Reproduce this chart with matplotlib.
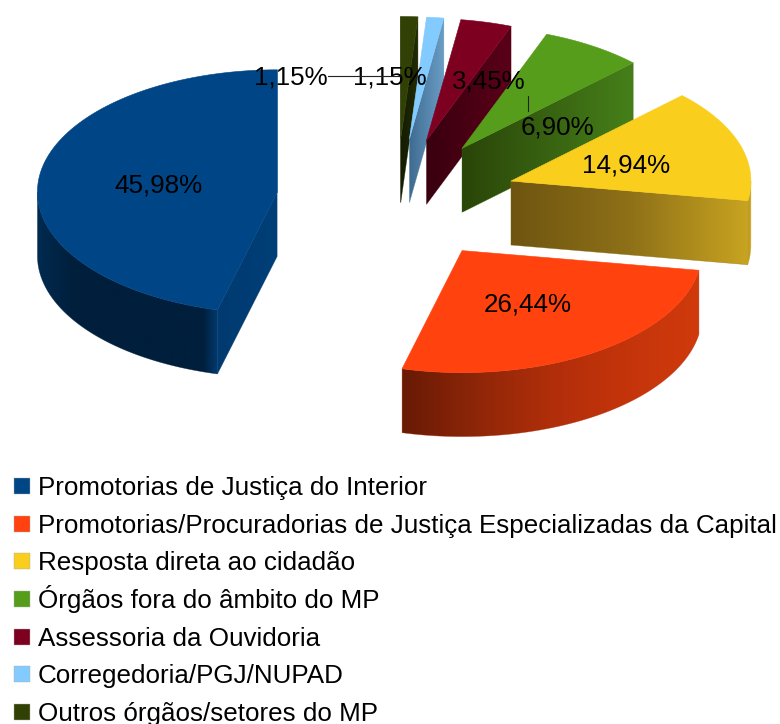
import numpy as np
import matplotlib
matplotlib.use('Agg')
import matplotlib.pyplot as plt
from matplotlib.colors import LinearSegmentedColormap
from matplotlib.patches import Polygon, Rectangle

plt.rcParams['font.family'] = ['Liberation Sans', 'DejaVu Sans']

categories = ['Promotorias de Justiça do Interior',
              'Promotorias/Procuradorias de Justiça Especializadas da Capital',
              'Resposta direta ao cidadão',
              'Órgãos fora do âmbito do MP',
              'Assessoria da Ouvidoria',
              'Corregedoria/PGJ/NUPAD',
              'Outros órgãos/setores do MP']
values = [45.98, 26.44, 14.94, 6.90, 3.45, 1.15, 1.15]
labels = ['45,98%', '26,44%', '14,94%', '6,90%', '3,45%', '1,15%', '1,15%']
colors = ['#004586', '#ff420e', '#f9ce1d', '#579d1c', '#7e0021', '#83caff', '#314004']

# where the value labels sit, in pixels
label_xy = [(158, 185), (528, 304.5), (626, 165), (557, 127), (489, 82), (390, 78), (291, 78)]

# gradient stops for the sides: (rim, cut face), left to right
rim_shades = [[(0, '#002a50'), (0.2, '#001f3c'), (0.92, '#001f3c'), (1, '#003a70')],
              ['#681a05', '#8e2608', '#b02e0a', '#c4340b', '#d03a0c'],
              ['#c09a1c', '#d0a820'],
              None, None, None, None]
cut_shades = [['#003a70', '#003f78'],
              None,
              ['#6e5510', '#8e7018', '#c8a420'],
              ['#2a4508', '#46801a'],
              ['#38000f', '#5a0018'],
              ['#3f6a90', '#6a9ec5'],
              ['#141c02', '#222c03']]

cx, cy = 396.5, 199.5
rx, ry = 240, 122
depth = 64
explode = 0.5

fig = plt.figure(figsize=(7.8, 7.24), dpi=100)
ax = fig.add_axes([0, 0, 1, 1])
z = [1]  # painter's order, images would go under the patches otherwise


def next_z():
    z[0] += 1
    return z[0]


def rim_point(c, t):
    return c[0] - rx * np.sin(t), c[1] - ry * np.cos(t)


def shade(poly, stops):
    # gradient clipped to a polygon, a thin outline on top hides the clip seams
    poly = np.array(poly)
    x0, y0 = poly.min(axis=0)
    x1, y1 = poly.max(axis=0)
    cmap = LinearSegmentedColormap.from_list('s', stops)
    ramp = np.linspace(0, 1, 256)[None, :]
    im = ax.imshow(ramp, cmap=cmap, extent=(x0, x1, y1, y0), aspect='auto',
                   interpolation='bilinear', origin='upper', zorder=next_z())
    p = Polygon(poly, closed=True, fc='none', ec='none', transform=ax.transData)
    ax.add_patch(p)
    im.set_clip_path(p)
    ax.add_patch(Polygon(poly, closed=True, fc='none', ec=cmap(0.5), lw=0.4, alpha=0.6,
                         zorder=next_z()))


def cut_face(c, t, stops):
    e = rim_point(c, t)
    shade([c, e, (e[0], e[1] + depth), (c[0], c[1] + depth)], stops)


start = 0.0
order = []
for i, v in enumerate(values):
    sweep = v / 100 * 2 * np.pi
    order.append((i, start, start + sweep))
    start += sweep

# back slices first, the big blue one goes on last
for i, t0, t1 in order[::-1]:
    mid = (t0 + t1) / 2
    c = (cx - explode * rx * np.sin(mid), cy - explode * ry * np.cos(mid))
    if np.sin(t0) < -1e-6:
        cut_face(c, t0, cut_shades[i])
    if np.sin(t1) > 1e-6:
        cut_face(c, t1, cut_shades[i])
    a0, a1 = max(t0, np.pi / 2), min(t1, 3 * np.pi / 2)
    if a1 > a0:
        ts = np.linspace(a0, a1, 120)
        top = np.array([rim_point(c, t) for t in ts])
        bottom = top[::-1] + [0, depth]
        shade(np.vstack([top, bottom]), rim_shades[i])
    ts = np.linspace(t0, t1, 200)
    arc = [rim_point(c, t) for t in ts]
    ax.add_patch(Polygon([c] + arc, closed=True, fc=colors[i], ec=colors[i], lw=0.4,
                         zorder=next_z()))

for (x, y), s in zip(label_xy, labels):
    ax.text(x, y, s, fontsize=18.7, color='black', ha='center', va='center', zorder=200)

# leader lines
ax.plot([328, 400], [76, 76], color='#222222', lw=0.8, zorder=200)
ax.plot([527.5, 527.5], [96, 111], color='#222222', lw=0.8, zorder=200)

# legend, one row every 37.67 px
for i, (name, col) in enumerate(zip(categories, colors)):
    base = 495 + i * 37.67
    ax.add_patch(Rectangle((13.5, base - 17), 16, 16, fc=col, ec='#b0b0b0', lw=0.3))
    ax.text(38, base, name, fontsize=18.75, color='black', ha='left', va='baseline')

ax.set_xlim(0, 780)
ax.set_ylim(724, 0)
ax.axis('off')
fig.savefig('out.png', dpi=100)
